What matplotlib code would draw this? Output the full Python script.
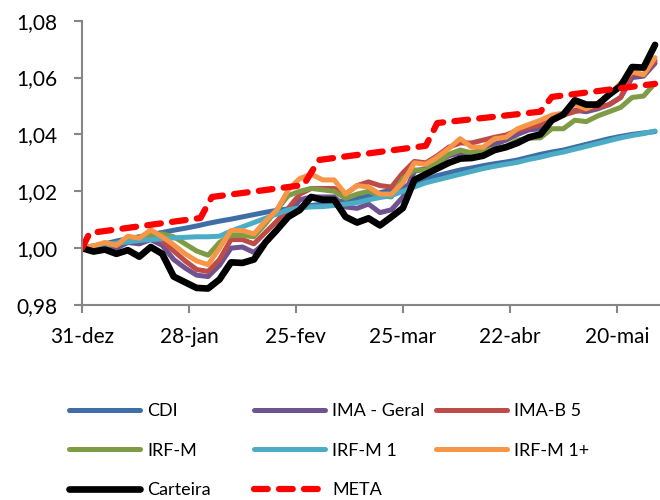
import matplotlib
matplotlib.use("Agg")
import matplotlib.pyplot as plt
from matplotlib.ticker import FuncFormatter

plt.rcParams['font.family'] = ['Lato', 'DejaVu Sans']

# days counted from 31-dez
days = list(range(0, 151, 3))

cdi = [1.000, 1.0008, 1.0015, 1.0025, 1.0033, 1.004, 1.0048, 1.0055, 1.0063, 1.007,
       1.0078, 1.0087, 1.0095, 1.0102, 1.011, 1.0118, 1.0126, 1.0133, 1.0138, 1.0143,
       1.015, 1.0155, 1.016, 1.0168, 1.0175, 1.0185, 1.0195, 1.0205, 1.0215, 1.0228,
       1.024, 1.0255, 1.0265, 1.0275, 1.0282, 1.029, 1.0297, 1.0303, 1.031, 1.032,
       1.033, 1.0338, 1.0345, 1.0355, 1.0365, 1.0375, 1.0385, 1.0393, 1.040, 1.0405, 1.041]

ima_geral = [1.000, 0.9998, 1.000, 1.000, 1.002, 1.0015, 1.003, 1.001, 0.996, 0.993,
             0.9905, 0.990, 0.994, 1.000, 1.0004, 0.9985, 1.002, 1.006, 1.0115, 1.017,
             1.018, 1.018, 1.018, 1.0145, 1.014, 1.0155, 1.0125, 1.0135, 1.018, 1.027,
             1.028, 1.030, 1.0325, 1.0335, 1.0335, 1.0345, 1.0365, 1.038, 1.040, 1.0416,
             1.042, 1.0455, 1.0475, 1.0485, 1.048, 1.049, 1.0505, 1.053, 1.060, 1.0605, 1.065]

ima_b5 = [1.000, 1.0005, 1.0015, 1.001, 1.003, 1.003, 1.0045, 1.0025, 0.999, 0.9955,
          0.9925, 0.9918, 0.996, 1.003, 1.003, 1.0015, 1.0055, 1.0095, 1.014, 1.019,
          1.021, 1.021, 1.021, 1.019, 1.022, 1.0233, 1.022, 1.0215, 1.0265, 1.0305,
          1.030, 1.0325, 1.0355, 1.037, 1.037, 1.038, 1.039, 1.0398, 1.0415, 1.0425,
          1.0435, 1.0455, 1.0468, 1.048, 1.049, 1.0495, 1.0505, 1.053, 1.0615, 1.061, 1.066]

irf_m = [1.000, 1.0005, 1.0015, 1.001, 1.003, 1.003, 1.0045, 1.005, 1.004, 1.0015,
         0.999, 0.9975, 1.002, 1.0045, 1.0045, 1.004, 1.0085, 1.0135, 1.0185, 1.020,
         1.021, 1.0205, 1.020, 1.0175, 1.019, 1.020, 1.0185, 1.018, 1.0245, 1.0275,
         1.0275, 1.030, 1.033, 1.0345, 1.0335, 1.034, 1.035, 1.0358, 1.038, 1.0387,
         1.0388, 1.042, 1.042, 1.045, 1.0445, 1.0465, 1.048, 1.0495, 1.053, 1.0535, 1.058]

irf_m1 = [1.000, 1.0008, 1.0012, 1.0018, 1.0022, 1.0027, 1.003, 1.0033, 1.0036, 1.0038,
          1.004, 1.004, 1.0042, 1.006, 1.0075, 1.009, 1.0105, 1.012, 1.0135, 1.0142,
          1.0145, 1.0146, 1.015, 1.0155, 1.016, 1.017, 1.0178, 1.0185, 1.020, 1.0215,
          1.023, 1.024, 1.025, 1.026, 1.027, 1.028, 1.0288, 1.0295, 1.0302, 1.0312,
          1.032, 1.033, 1.0338, 1.0348, 1.0358, 1.0368, 1.0378, 1.0388, 1.0396, 1.0403, 1.0412]

irf_m1_plus = [1.000, 1.0008, 1.002, 1.001, 1.0042, 1.0035, 1.0064, 1.004, 1.0012, 0.998,
               0.9955, 0.9942, 1.000, 1.0062, 1.0062, 1.005, 1.0095, 1.0134, 1.0205, 1.0245,
               1.026, 1.024, 1.024, 1.019, 1.022, 1.0215, 1.019, 1.019, 1.023, 1.030,
               1.0295, 1.032, 1.035, 1.0385, 1.0355, 1.0355, 1.0385, 1.039, 1.042, 1.0435,
               1.045, 1.0468, 1.0475, 1.0505, 1.049, 1.051, 1.054, 1.058, 1.062, 1.061, 1.067]

carteira = [1.000, 0.9988, 0.9995, 0.998, 0.9993, 0.997, 1.0004, 0.998, 0.990, 0.988,
            0.986, 0.9858, 0.989, 0.995, 0.9948, 0.996, 1.002, 1.0064, 1.011, 1.0134,
            1.018, 1.017, 1.017, 1.011, 1.009, 1.0105, 1.008, 1.011, 1.0141, 1.024,
            1.026, 1.028, 1.030, 1.0315, 1.0317, 1.0325, 1.0345, 1.0355, 1.037, 1.039,
            1.040, 1.045, 1.047, 1.052, 1.0505, 1.0505, 1.054, 1.057, 1.0637, 1.0635, 1.0715]

meta_days = [0, 2, 31, 34, 58, 62, 90, 93, 120, 123, 150]
meta = [1.000, 1.0053, 1.0106, 1.018, 1.0222, 1.031, 1.036, 1.044, 1.048, 1.0532, 1.0578]

tick_days = [0, 28, 56, 84, 112, 140]
tick_labels = ['31-dez', '28-jan', '25-fev', '25-mar', '22-abr', '20-mai']

fig = plt.figure(figsize=(6.6, 5), dpi=100)
ax = fig.add_axes([82 / 660, 195 / 500, 578 / 660, 284.3 / 500])

h_cdi, = ax.plot(days, cdi, color='#3F6DA5', lw=3.6, label='CDI', solid_capstyle='round')
h_ima, = ax.plot(days, ima_geral, color='#6F5391', lw=3.6, label='IMA - Geral', solid_capstyle='round')
h_imab, = ax.plot(days, ima_b5, color='#BE4B48', lw=3.6, label='IMA-B 5', solid_capstyle='round')
h_irf, = ax.plot(days, irf_m, color='#7E9C45', lw=3.6, label='IRF-M', solid_capstyle='round')
h_irf1, = ax.plot(days, irf_m1, color='#4BACC6', lw=3.6, label='IRF-M 1', solid_capstyle='round')
h_irf1p, = ax.plot(days, irf_m1_plus, color='#F79646', lw=3.6, label='IRF-M 1+', solid_capstyle='round')
h_cart, = ax.plot(days, carteira, color='black', lw=4.8, label='Carteira', solid_capstyle='round')
h_meta, = ax.plot(meta_days, meta, color='#FF0000', lw=4.5, label='META', dashes=(2.2, 1.8),
                  dash_capstyle='round')

ax.set_xlim(0, 151.3)
ax.set_ylim(0.98, 1.08)
ax.set_yticks([0.98, 1.00, 1.02, 1.04, 1.06, 1.08])
ax.yaxis.set_major_formatter(FuncFormatter(lambda v, p: f'{v:.2f}'.replace('.', ',')))
ax.set_xticks(tick_days)
ax.set_xticklabels(tick_labels)

for s in ['top', 'right']:
    ax.spines[s].set_visible(False)
for s in ['left', 'bottom']:
    ax.spines[s].set_color('#868686')
    ax.spines[s].set_linewidth(1.5)
ax.tick_params(axis='both', colors='#868686', length=6, width=1.5, labelsize=15,
               labelcolor='black')
ax.tick_params(axis='y', pad=12)
ax.tick_params(axis='x', pad=10)

# legend: three columns placed side by side, read row by row
columns = [[h_cdi, h_irf, h_cart], [h_ima, h_irf1, h_meta], [h_imab, h_irf1p]]
col_x = [53, 238, 420]
for col, x0 in zip(columns, col_x):
    fig.legend(handles=col, labels=[h.get_label() for h in col],
               loc='upper left', bbox_to_anchor=(x0 / 660, 1 - 387 / 500),
               frameon=False, fontsize=13, handlelength=3.9, handletextpad=0.4,
               labelspacing=1.3)

fig.savefig('out.png', dpi=100)
